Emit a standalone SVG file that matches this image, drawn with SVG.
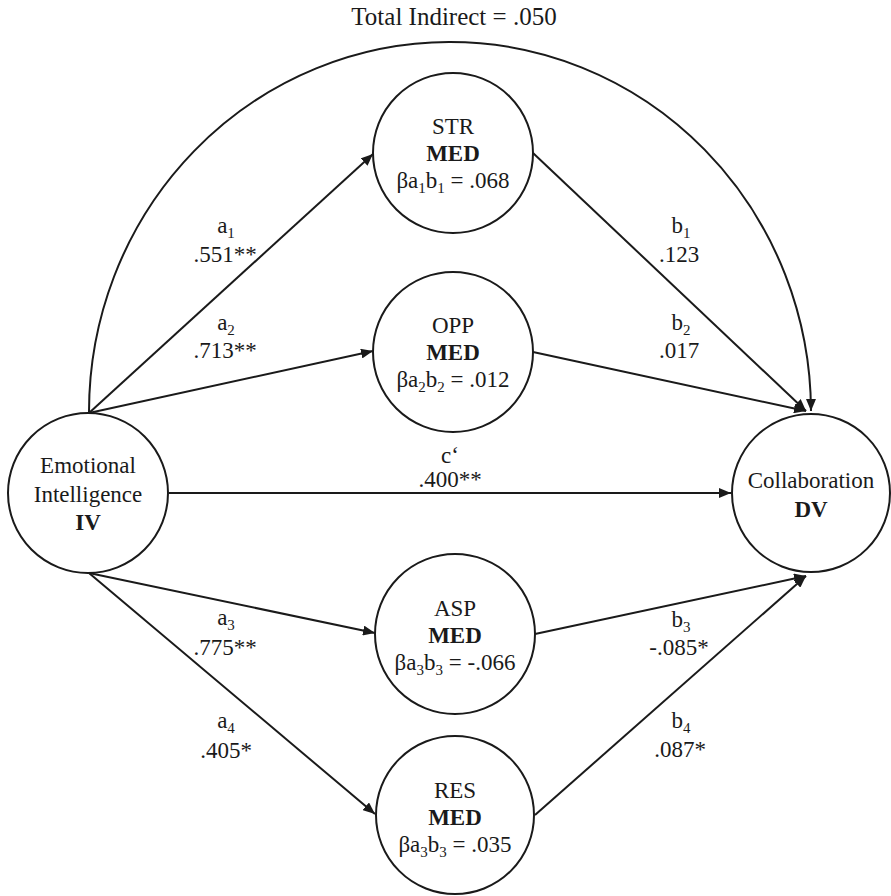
<svg xmlns="http://www.w3.org/2000/svg" width="891" height="896" viewBox="0 0 891 896">
  <defs>
    <marker id="arrow" markerWidth="12" markerHeight="10" refX="12" refY="5" orient="auto" markerUnits="userSpaceOnUse">
      <path d="M0,0 L12,5 L0,10 z" fill="#1a1a1a"/>
    </marker>
    <style>
      text { font-family: "Liberation Serif", "Times New Roman", serif; font-size: 23px; fill: #1a1a1a; text-anchor: middle; }
      .b { font-weight: bold; }
      .sub { font-size: 15px; }
      .node { fill: #ffffff; stroke: #1a1a1a; stroke-width: 2; }
      .edge { fill: none; stroke: #1a1a1a; stroke-width: 2; marker-end: url(#arrow); }
      .title { font-size: 25px; }
    </style>
  </defs>

  <rect width="891" height="896" fill="#ffffff"/>

  <text class="title" x="454" y="25">Total Indirect = .050</text>

  <!-- connectors -->
  <g id="connectors">
    <path class="edge" d="M89,413 A361,370 0 0 1 811,411"/>
    <line class="edge" x1="89" y1="413" x2="373" y2="154"/>
    <line class="edge" x1="89" y1="413" x2="373" y2="351"/>
    <line class="edge" x1="169" y1="493" x2="731" y2="493"/>
    <line class="edge" x1="89" y1="573" x2="375" y2="633"/>
    <line class="edge" x1="89" y1="573" x2="375" y2="814"/>
    <line class="edge" x1="533" y1="153" x2="806" y2="411"/>
    <line class="edge" x1="533" y1="352" x2="806" y2="411"/>
    <line class="edge" x1="535" y1="634" x2="806" y2="576"/>
    <line class="edge" x1="535" y1="815" x2="806" y2="576"/>
  </g>

  <!-- path coefficients -->
  <g id="edge-labels">
    <text x="226" y="233">a<tspan class="sub" dy="5">1</tspan></text>
    <text x="225" y="262">.551**</text>
    <text x="226" y="330">a<tspan class="sub" dy="5">2</tspan></text>
    <text x="225" y="358">.713**</text>
    <text x="450" y="463">c‘</text>
    <text x="450" y="487">.400**</text>
    <text x="226" y="625">a<tspan class="sub" dy="5">3</tspan></text>
    <text x="225" y="655">.775**</text>
    <text x="226" y="728">a<tspan class="sub" dy="5">4</tspan></text>
    <text x="226" y="758">.405*</text>
    <text x="681" y="233">b<tspan class="sub" dy="5">1</tspan></text>
    <text x="679" y="262">.123</text>
    <text x="681" y="330">b<tspan class="sub" dy="5">2</tspan></text>
    <text x="679" y="358">.017</text>
    <text x="681" y="627">b<tspan class="sub" dy="5">3</tspan></text>
    <text x="679" y="655">-.085*</text>
    <text x="681" y="728">b<tspan class="sub" dy="5">4</tspan></text>
    <text x="680" y="757">.087*</text>
  </g>

  <g id="node-iv">
    <circle class="node" cx="88" cy="493" r="80"/>
    <text x="88" y="473">Emotional</text>
    <text x="88" y="502">Intelligence</text>
    <text class="b" x="88" y="530">IV</text>
  </g>

  <g id="node-dv">
    <circle class="node" cx="811" cy="493" r="79"/>
    <text x="811" y="488">Collaboration</text>
    <text class="b" x="811" y="517">DV</text>
  </g>

  <g id="node-str">
    <circle class="node" cx="453" cy="153" r="80"/>
    <text x="453" y="134">STR</text>
    <text class="b" x="453" y="161">MED</text>
    <text x="453" y="188">βa<tspan class="sub" dy="5">1</tspan><tspan dy="-5">b</tspan><tspan class="sub" dy="5">1</tspan><tspan dy="-5"> = .068</tspan></text>
  </g>

  <g id="node-opp">
    <circle class="node" cx="453" cy="352" r="80"/>
    <text x="453" y="333">OPP</text>
    <text class="b" x="453" y="360">MED</text>
    <text x="453" y="387">βa<tspan class="sub" dy="5">2</tspan><tspan dy="-5">b</tspan><tspan class="sub" dy="5">2</tspan><tspan dy="-5"> = .012</tspan></text>
  </g>

  <g id="node-asp">
    <circle class="node" cx="455" cy="634" r="80"/>
    <text x="455" y="616">ASP</text>
    <text class="b" x="455" y="643">MED</text>
    <text x="455" y="670">βa<tspan class="sub" dy="5">3</tspan><tspan dy="-5">b</tspan><tspan class="sub" dy="5">3</tspan><tspan dy="-5"> = -.066</tspan></text>
  </g>

  <g id="node-res">
    <circle class="node" cx="455" cy="815" r="79"/>
    <text x="455" y="798">RES</text>
    <text class="b" x="455" y="825">MED</text>
    <text x="455" y="852">βa<tspan class="sub" dy="5">3</tspan><tspan dy="-5">b</tspan><tspan class="sub" dy="5">3</tspan><tspan dy="-5"> = .035</tspan></text>
  </g>
</svg>
